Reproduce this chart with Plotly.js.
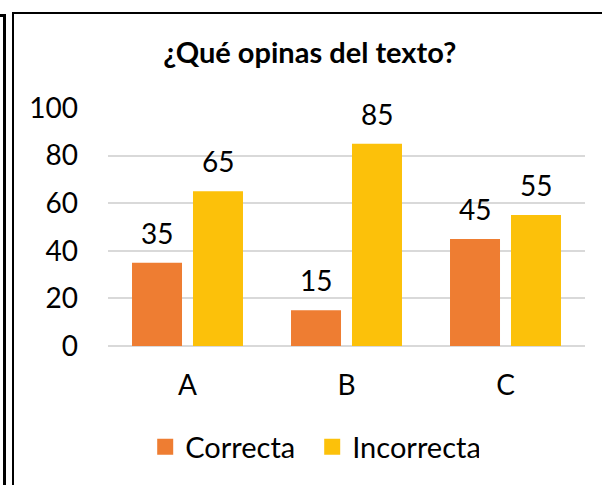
<!DOCTYPE html>
<html>
<head>
<meta charset="utf-8">
<script src="https://cdn.plot.ly/plotly-3.0.1.min.js"></script>
<style>
html,body{margin:0;padding:0;background:#fff;}
#wrap{position:relative;width:602px;height:485px;overflow:hidden;}
#chart{position:absolute;left:0;top:0;width:602px;height:485px;}
.ln{position:absolute;background:#000;pointer-events:none;}
</style>
</head>
<body>
<div id="wrap">
<div id="chart"></div>
<div class="ln" style="left:0;top:14px;width:5px;height:2.5px;"></div>
<div class="ln" style="left:3px;top:14px;width:2.5px;height:471px;"></div>
<div class="ln" style="left:12px;top:12px;width:590px;height:2.3px;"></div>
<div class="ln" style="left:12px;top:12px;width:2.3px;height:473px;"></div>
</div>
<script>
const categories = ["A", "B", "C"];
const seriesNames = ["Correcta", "Incorrecta"];
const correcta = [35, 15, 45];
const incorrecta = [65, 85, 55];
const yTicks = [0, 20, 40, 60, 80, 100];
const titleText = "¿Qué opinas del texto?";

const colors = ["#EE7D32", "#FCC10A"];
const FONT = "Lato, 'Open Sans', sans-serif";
const FS = 28;
const bargap = 0.233, bargroupgap = 0.18;

const series = [correcta, incorrecta];
const traces = series.map((vals, i) => ({
  type: "bar",
  name: seriesNames[i],
  x: categories,
  y: vals,
  marker: {color: colors[i]},
  showlegend: false,
  hoverinfo: "none"
}));
// legend entries with larger square swatches
series.forEach((vals, i) => {
  traces.push({
    type: "scatter", mode: "markers",
    name: seriesNames[i],
    x: [null], y: [null],
    marker: {symbol: "square", size: 19, color: colors[i]},
    showlegend: true, hoverinfo: "none"
  });
});

// data labels above bars, positioned from the grouped bar geometry
const slot = (1 - bargap) / series.length;
const annotations = [];
series.forEach((vals, i) => {
  const off = -((1 - bargap) / 2) + slot * (i + 0.5);
  vals.forEach((v, j) => {
    annotations.push({
      xref: "x", yref: "y",
      x: j + off, y: v,
      text: String(v),
      showarrow: false,
      yanchor: "middle",
      yshift: 30,
      font: {family: FONT, size: FS, color: "#000"}
    });
  });
});

const layout = {
  width: 602, height: 485,
  margin: {l: 108, r: 17, t: 108, b: 139},
  paper_bgcolor: "#fff", plot_bgcolor: "#fff",
  font: {family: FONT, size: FS, color: "#000"},
  title: {
    text: "<b>" + titleText + "</b>",
    font: {family: FONT, size: 29, color: "#000"},
    xref: "paper", x: 0.423, xanchor: "center",
    yref: "container", y: 1 - 53/485, yanchor: "middle"
  },
  barmode: "group",
  bargap: bargap,
  bargroupgap: bargroupgap,
  xaxis: {
    type: "category",
    categoryorder: "array", categoryarray: categories,
    showgrid: false, zeroline: false, showline: false,
    ticks: "", ticklen: 0,
    ticklabelstandoff: 20,
    tickfont: {family: FONT, size: FS, color: "#000"}
  },
  yaxis: {
    range: [0, 100],
    tickvals: yTicks,
    showgrid: true, gridcolor: "#D9D9D9", gridwidth: 2,
    zeroline: true, zerolinecolor: "#D9D9D9", zerolinewidth: 2,
    showline: false, ticks: "",
    ticklabelstandoff: 29,
    tickfont: {family: FONT, size: FS, color: "#000"}
  },
  showlegend: true,
  legend: {
    orientation: "h",
    x: 0.078, xanchor: "left",
    y: -0.424, yanchor: "middle",
    font: {family: FONT, size: 29, color: "#000"},
    itemwidth: 30,
    entrywidth: 122, entrywidthmode: "pixels"
  },
  annotations: annotations
};

Plotly.newPlot("chart", traces, layout, {staticPlot: true});
</script>
</body>
</html>
